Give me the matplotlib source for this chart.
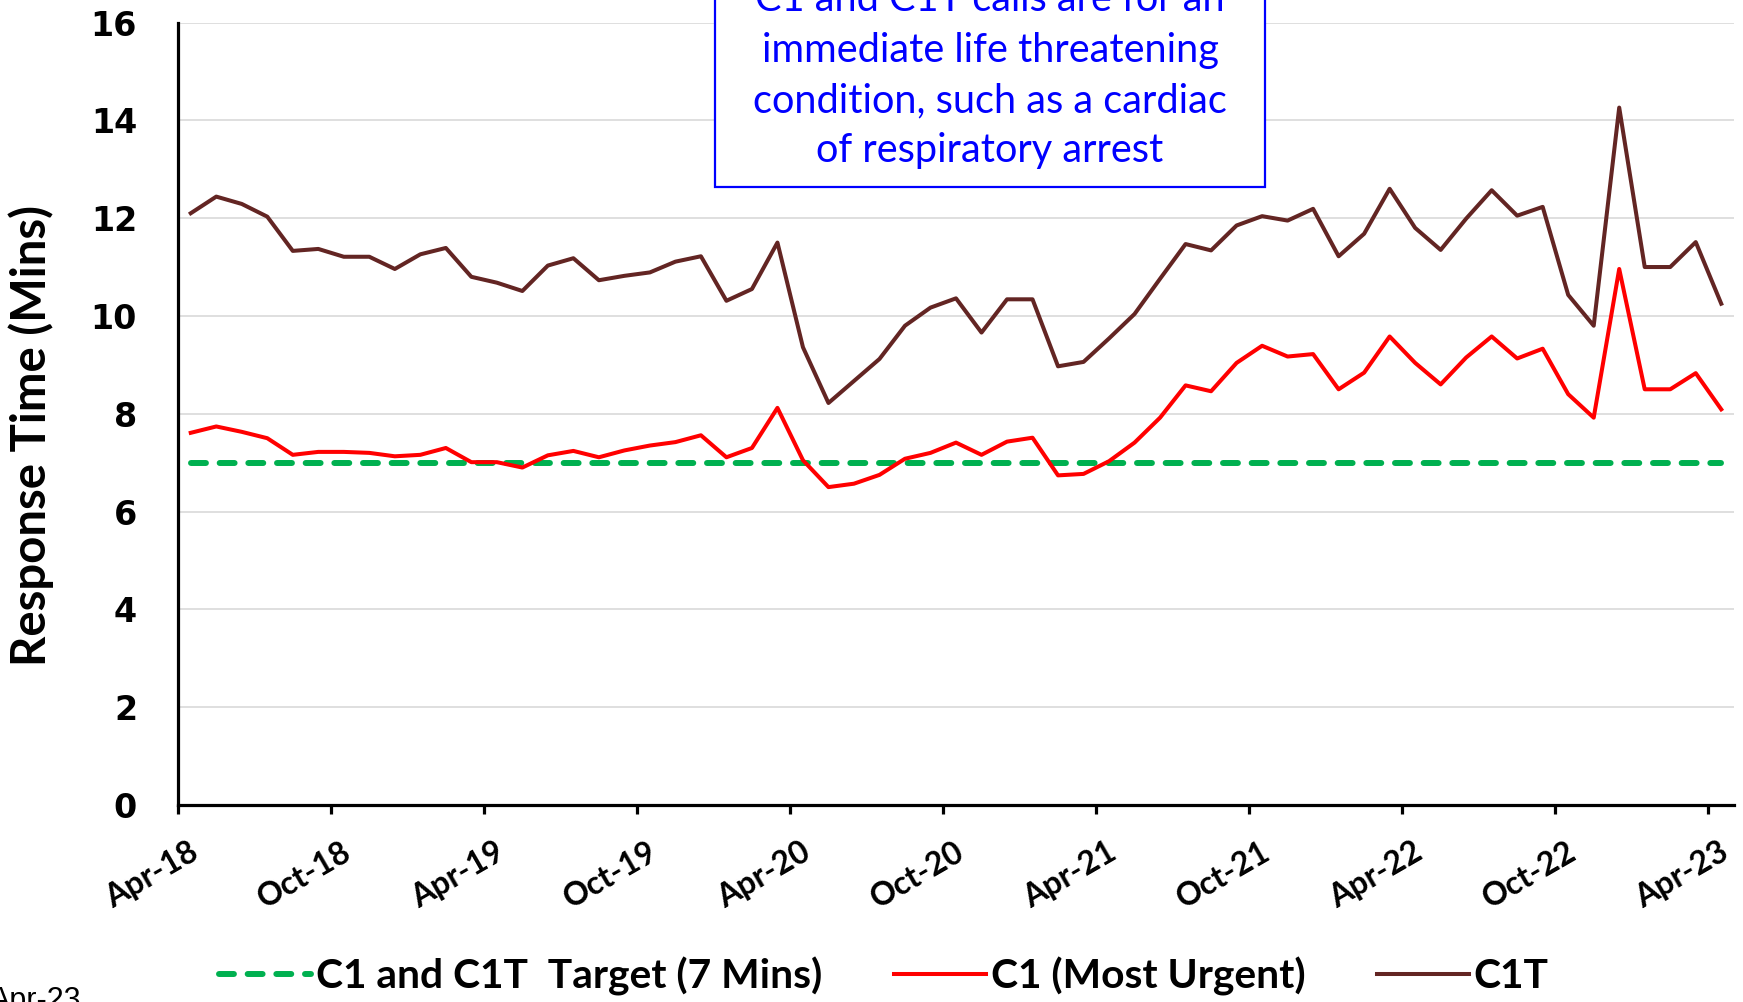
import numpy as np
import matplotlib
matplotlib.use("Agg")
import matplotlib.pyplot as plt
from matplotlib.patches import Rectangle
from matplotlib.transforms import ScaledTranslation

# ---------------- data ----------------
tick_labels = ["Apr-18", "Oct-18", "Apr-19", "Oct-19", "Apr-20", "Oct-20",
               "Apr-21", "Oct-21", "Apr-22", "Oct-22", "Apr-23"]

c1t = [12.10, 12.44, 12.29, 12.03, 11.33, 11.37, 11.21, 11.21, 10.96, 11.26,
       11.39, 10.80, 10.68, 10.51, 11.03, 11.18, 10.73, 10.82, 10.89, 11.11,
       11.22, 10.31, 10.55, 11.50, 9.36, 8.22, 8.67, 9.12, 9.80, 10.17,
       10.36, 9.66, 10.34, 10.34, 8.97, 9.06, 9.54, 10.04, 10.76, 11.47,
       11.34, 11.85, 12.04, 11.95, 12.19, 11.22, 11.68, 12.60, 11.80, 11.35,
       11.99, 12.57, 12.05, 12.23, 10.43, 9.80, 14.26, 11.00, 11.00, 11.51,
       10.25]

c1 = [7.61, 7.74, 7.63, 7.50, 7.16, 7.22, 7.22, 7.20, 7.13, 7.16,
      7.30, 7.01, 7.01, 6.90, 7.15, 7.24, 7.11, 7.25, 7.35, 7.42,
      7.56, 7.11, 7.30, 8.12, 7.05, 6.50, 6.57, 6.75, 7.08, 7.20,
      7.41, 7.16, 7.43, 7.51, 6.74, 6.77, 7.03, 7.41, 7.92, 8.58,
      8.46, 9.04, 9.39, 9.17, 9.22, 8.50, 8.84, 9.58, 9.04, 8.60,
      9.15, 9.58, 9.13, 9.33, 8.40, 7.92, 10.96, 8.50, 8.50, 8.83,
      8.09]

target_value = 7.0
target = [target_value] * len(c1)

series_names = ["C1 and C1T  Target (7 Mins)", "C1 (Most Urgent)", "C1T"]
y_ticks = [0, 2, 4, 6, 8, 10, 12, 14, 16]

box_lines = ["C1 and C1T calls are for an",
             "immediate life threatening",
             "condition, such as a cardiac",
             "of respiratory arrest"]

# ---------------- figure ----------------
W, H = 1743, 1002
fig = plt.figure(figsize=(W / 100, H / 100), dpi=100)
ax = fig.add_axes([178 / W, (H - 805) / H, 1556 / W, 782.5 / H])

x = np.arange(len(c1)) + 0.5

ax.plot(x, target, color="#00b050", lw=4.3, linestyle=(0, (2.5, 2.3)),
        dash_capstyle="round", label=series_names[0], zorder=3)
ax.plot(x, c1, color="#ff0000", lw=2.9, label=series_names[1], zorder=4,
        solid_joinstyle="round")
ax.plot(x, c1t, color="#632523", lw=2.9, label=series_names[2], zorder=5,
        solid_joinstyle="round")

ax.set_xlim(0, 61)
ax.set_ylim(0, 16)
ax.set_yticks(y_ticks)
ax.set_yticklabels([str(v) for v in y_ticks])
ax.set_xticks(np.arange(0, 61, 6))
ax.set_xticklabels(tick_labels)

# grid
for v in y_ticks[1:]:
    ax.axhline(v, color="#d9d9d9", lw=1.2, zorder=1)

for s in ["top", "right"]:
    ax.spines[s].set_visible(False)
for s in ["left", "bottom"]:
    ax.spines[s].set_linewidth(2.3)
    ax.spines[s].set_color("black")

ax.tick_params(axis="y", length=0, pad=29.5)
ax.tick_params(axis="x", length=6.5, width=2.3, direction="out", pad=25.5)

for lab in ax.get_yticklabels():
    lab.set_fontfamily("DejaVu Sans")
    lab.set_fontweight("bold")
    lab.set_fontsize(24)

off = ScaledTranslation(0.18, 0, fig.dpi_scale_trans)
for lab in ax.get_xticklabels():
    lab.set_fontfamily(["Lato", "DejaVu Sans"])
    lab.set_fontweight("bold")
    lab.set_fontsize(23)
    lab.set_rotation(30)
    lab.set_ha("right")
    lab.set_va("center")
    lab.set_rotation_mode("anchor")
    lab.set_transform(lab.get_transform() + off)

ax.set_ylabel("Response Time (Mins)", family=["Lato", "DejaVu Sans"],
              fontweight="bold", fontsize=34, va="center")
ax.yaxis.set_label_coords((31 - 178) / 1556, (805 - 436) / 782.5)

# legend
leg = fig.legend(handles=ax.get_lines(), labels=series_names, ncol=3,
                 loc="center", bbox_to_anchor=(884 / W, 1 - 976 / H),
                 frameon=False, handlelength=2.25, handletextpad=0.12,
                 columnspacing=1.77,
                 prop={"family": "Lato", "weight": "bold", "size": 29.3})

# annotation box
fig.patches.append(Rectangle((715 / W, 1 - 187 / H), 550 / W, 0.3,
                             transform=fig.transFigure, facecolor="white",
                             edgecolor="#0000ff", lw=1.6, zorder=10))
baselines = [11, 62, 112, 162]
for txt, b in zip(box_lines, baselines):
    fig.text(990 / W, 1 - b / H, txt, ha="center", va="baseline",
             color="#0000ff", family=["Lato", "DejaVu Sans"], fontsize=28.6,
             zorder=11)

# stray clipped label at bottom-left
fig.text(-10 / W, -7 / H, "Apr-23", ha="left", va="baseline",
         family=["Liberation Sans", "DejaVu Sans"], fontsize=22, color="black")

fig.savefig("out.png", dpi=100)
